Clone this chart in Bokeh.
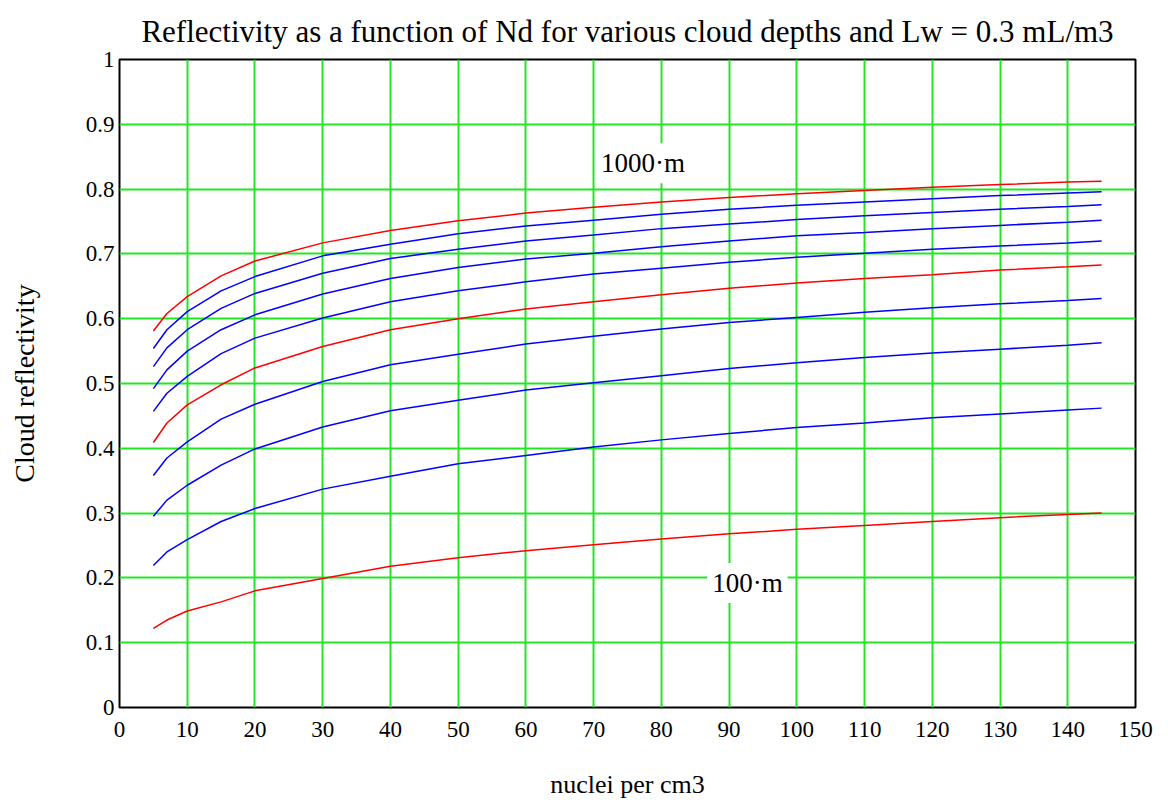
from bokeh.plotting import figure
from bokeh.models import FixedTicker, CustomJSTickFormatter, Label
from bokeh.embed import file_html
from bokeh.resources import INLINE

# ---- data ----
nd = [5, 7, 10, 15, 20, 30, 40, 50, 60, 70, 80, 90, 100, 110, 120, 130, 140, 145]

r_1000 = [0.581, 0.608, 0.634, 0.666, 0.689, 0.717, 0.736, 0.751, 0.763, 0.772, 0.780, 0.787, 0.793, 0.798, 0.803, 0.807, 0.811, 0.812]
r_900 = [0.554, 0.583, 0.611, 0.643, 0.665, 0.697, 0.715, 0.731, 0.743, 0.752, 0.761, 0.769, 0.775, 0.780, 0.785, 0.790, 0.794, 0.796]
r_800 = [0.526, 0.555, 0.583, 0.616, 0.639, 0.670, 0.693, 0.707, 0.720, 0.729, 0.739, 0.746, 0.753, 0.759, 0.764, 0.769, 0.773, 0.776]
r_700 = [0.492, 0.521, 0.550, 0.583, 0.606, 0.638, 0.662, 0.679, 0.692, 0.701, 0.711, 0.720, 0.728, 0.733, 0.739, 0.744, 0.749, 0.752]
r_600 = [0.457, 0.485, 0.511, 0.546, 0.570, 0.601, 0.626, 0.643, 0.657, 0.669, 0.678, 0.687, 0.695, 0.701, 0.707, 0.712, 0.717, 0.720]
r_500 = [0.409, 0.439, 0.467, 0.498, 0.524, 0.557, 0.583, 0.600, 0.615, 0.626, 0.637, 0.647, 0.655, 0.662, 0.668, 0.675, 0.680, 0.683]
r_400 = [0.358, 0.385, 0.410, 0.445, 0.468, 0.503, 0.529, 0.545, 0.561, 0.573, 0.584, 0.594, 0.602, 0.610, 0.617, 0.623, 0.628, 0.631]
r_300 = [0.295, 0.320, 0.343, 0.374, 0.399, 0.433, 0.458, 0.474, 0.490, 0.501, 0.512, 0.523, 0.532, 0.540, 0.547, 0.553, 0.559, 0.563]
r_200 = [0.219, 0.240, 0.259, 0.287, 0.307, 0.337, 0.357, 0.376, 0.389, 0.402, 0.413, 0.423, 0.432, 0.439, 0.447, 0.453, 0.459, 0.462]
r_100 = [0.122, 0.135, 0.149, 0.163, 0.180, 0.199, 0.218, 0.231, 0.242, 0.251, 0.260, 0.268, 0.275, 0.281, 0.287, 0.293, 0.298, 0.300]

series = [r_100, r_200, r_300, r_400, r_500, r_600, r_700, r_800, r_900, r_1000]
series_colors = ["red", "blue", "blue", "blue", "red", "blue", "blue", "blue", "blue", "red"]

x_ticks = [0, 10, 20, 30, 40, 50, 60, 70, 80, 90, 100, 110, 120, 130, 140, 150]
y_ticks = [0, 0.1, 0.2, 0.3, 0.4, 0.5, 0.6, 0.7, 0.8, 0.9, 1.0]

title_text = "Reflectivity as a function of Nd for various cloud depths and Lw = 0.3 mL/m3"
x_label = "nuclei per cm3"
y_label = "Cloud reflectivity"
top_label = "1000\u00b7m"
bottom_label = "100\u00b7m"

SERIF = "Liberation Serif"

p = figure(width=1166, height=801, x_range=(0, 150), y_range=(0, 1),
           output_backend="svg", toolbar_location=None,
           min_border_left=119, min_border_right=31, min_border_top=59, min_border_bottom=93)

p.title.text = title_text
p.title.align = "center"
p.title.text_font = SERIF
p.title.text_font_size = "31px"
p.title.text_font_style = "normal"
p.title.text_color = "black"
p.title.standoff = 21

for ys, c in zip(series, series_colors):
    p.line(nd, ys, line_color=c, line_width=1.5)

for ax in (p.xaxis[0], p.yaxis[0]):
    ax.major_tick_in = 0
    ax.major_tick_out = 0
    ax.minor_tick_in = 0
    ax.minor_tick_out = 0
    ax.axis_line_color = None
    ax.major_label_text_font = SERIF
    ax.major_label_text_font_size = "23px"
    ax.major_label_text_color = "black"
    ax.axis_label_text_font = SERIF
    ax.axis_label_text_font_style = "normal"
    ax.axis_label_text_color = "black"

p.xaxis.axis_label_text_font_size = "26px"
p.yaxis.axis_label_text_font_size = "28px"
p.xaxis.ticker = FixedTicker(ticks=x_ticks)
p.yaxis.ticker = FixedTicker(ticks=y_ticks)
p.yaxis.formatter = CustomJSTickFormatter(code="return Number(tick.toFixed(1)).toString();")
p.xaxis.axis_label = x_label
p.yaxis.axis_label = y_label
p.xaxis.major_label_standoff = 14
p.xaxis.axis_label_standoff = 30
p.yaxis.major_label_standoff = 5
p.yaxis.axis_label_standoff = 43

p.xgrid.grid_line_color = "#22e622"
p.ygrid.grid_line_color = "#22e622"
p.xgrid.grid_line_width = 2
p.ygrid.grid_line_width = 2

p.outline_line_color = "black"
p.outline_line_width = 2
p.outline_line_alpha = 1
p.background_fill_color = "white"
p.border_fill_color = "white"

for txt, lx, ly in [(top_label, 77.3, 0.840), (bottom_label, 92.7, 0.192)]:
    p.add_layout(Label(x=lx, y=ly, text=txt, text_align="center", text_baseline="middle",
                       text_font=SERIF, text_font_size="27px", text_color="black",
                       background_fill_color="white", padding=5))

open("out.html", "w").write(file_html(p, INLINE))
